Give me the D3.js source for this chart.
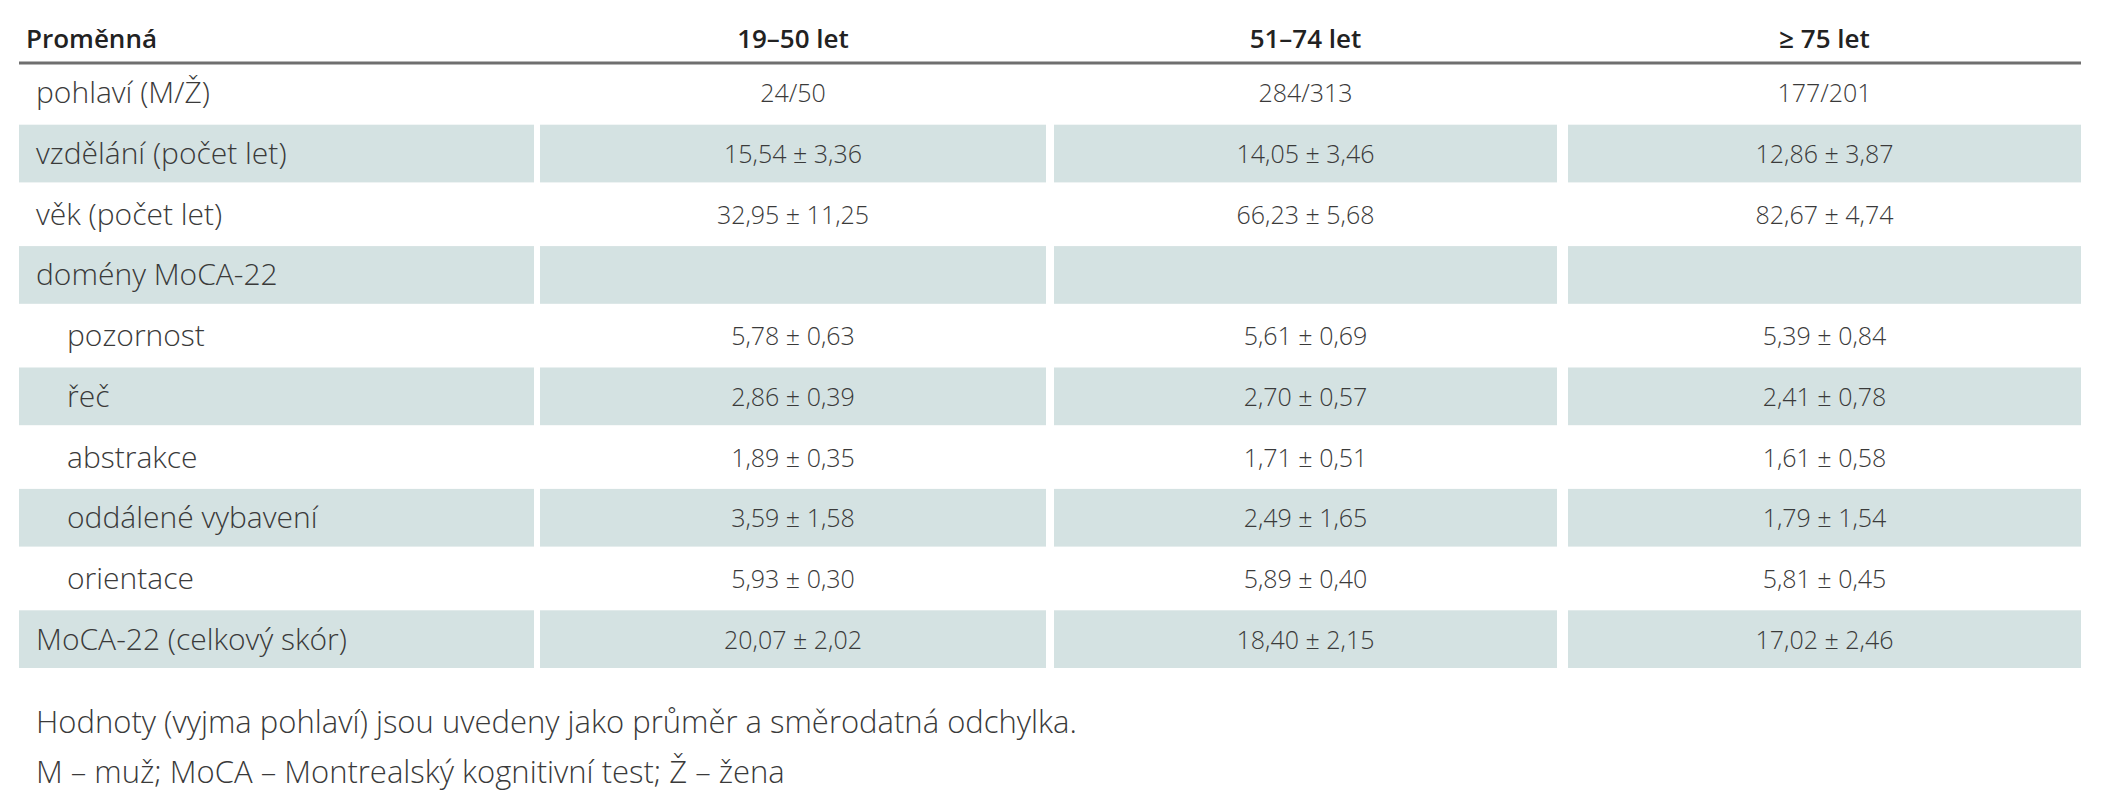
<!DOCTYPE html>
<html><head><meta charset="utf-8">
<script src="https://cdn.jsdelivr.net/npm/d3@7"></script>
<style>body{margin:0;background:#fff}</style>
</head><body><svg id="chart" width="2111" height="800"></svg>
<script>
var headers = ["Proměnná", "19–50 let", "51–74 let", "≥ 75 let"]
var labels = ["pohlaví (M/Ž)", "vzdělání (počet let)", "věk (počet let)", "domény MoCA-22",
  "pozornost", "řeč", "abstrakce", "oddálené vybavení", "orientace", "MoCA-22 (celkový skór)"]
var indent = [0, 0, 0, 0, 1, 1, 1, 1, 1, 0]
var col1 = ["24/50", "15,54 ± 3,36", "32,95 ± 11,25", "", "5,78 ± 0,63", "2,86 ± 0,39", "1,89 ± 0,35", "3,59 ± 1,58", "5,93 ± 0,30", "20,07 ± 2,02"]
var col2 = ["284/313", "14,05 ± 3,46", "66,23 ± 5,68", "", "5,61 ± 0,69", "2,70 ± 0,57", "1,71 ± 0,51", "2,49 ± 1,65", "5,89 ± 0,40", "18,40 ± 2,15"]
var col3 = ["177/201", "12,86 ± 3,87", "82,67 ± 4,74", "", "5,39 ± 0,84", "2,41 ± 0,78", "1,61 ± 0,58", "1,79 ± 1,54", "5,81 ± 0,45", "17,02 ± 2,46"]
var notes = ["Hodnoty (vyjma pohlaví) jsou uvedeny jako průměr a směrodatná odchylka.",
  "M – muž; MoCA – Montrealský kognitivní test; Ž – žena"]

const svg = d3.select("#chart")
const font = "'Open Sans', sans-serif"
const txt = "#3a3a3a"
// column edges
const cols = [[19, 534], [540, 1046], [1054, 1557], [1568, 2081]]
const y = d3.scaleBand().domain(d3.range(labels.length)).range([63, 670]).paddingInner(0)
const rh = y.bandwidth()

// shaded rows (every second)
const shaded = d3.range(labels.length).filter(i => i % 2 == 1)
shaded.forEach(function(i){
  svg.append("g").selectAll("rect").data(cols).join("rect")
    .attr("x", d => d[0]).attr("width", d => d[1] - d[0])
    .attr("y", y(i) + 1).attr("height", rh - 3)
    .attr("fill", "#d4e2e2")
})

// header
svg.append("line").attr("x1", 19).attr("x2", 2081).attr("y1", 63).attr("y2", 63)
  .attr("stroke", "#6f6f6f").attr("stroke-width", 3)
svg.append("g").selectAll("text").data(headers).join("text")
  .attr("x", (d, i) => i == 0 ? 26 : (cols[i][0] + cols[i][1]) / 2)
  .attr("y", 48)
  .attr("text-anchor", (d, i) => i == 0 ? "start" : "middle")
  .attr("font-family", font).attr("font-weight", 600).attr("font-size", 26)
  .attr("fill", "#222").text(d => d)

// labels
svg.append("g").selectAll("text").data(labels).join("text")
  .attr("x", (d, i) => indent[i] ? 67 : 36)
  .attr("y", (d, i) => y(i) + rh / 2 + 10)
  .attr("font-family", font).attr("font-weight", 300).attr("font-size", 30)
  .attr("fill", txt).text(d => d)

// values
;[col1, col2, col3].forEach(function(vals, c){
  svg.append("g").selectAll("text").data(vals).join("text")
    .attr("x", (cols[c + 1][0] + cols[c + 1][1]) / 2)
    .attr("y", (d, i) => y(i) + rh / 2 + 9)
    .attr("text-anchor", "middle")
    .attr("font-family", font).attr("font-weight", 300).attr("font-size", 25)
    .attr("fill", txt).text(d => d)
})

// footnotes
svg.append("g").selectAll("text").data(notes).join("text")
  .attr("x", 36).attr("y", (d, i) => 733 + i * 50)
  .attr("font-family", font).attr("font-weight", 300).attr("font-size", 31)
  .attr("fill", txt).text(d => d)
</script></body></html>
